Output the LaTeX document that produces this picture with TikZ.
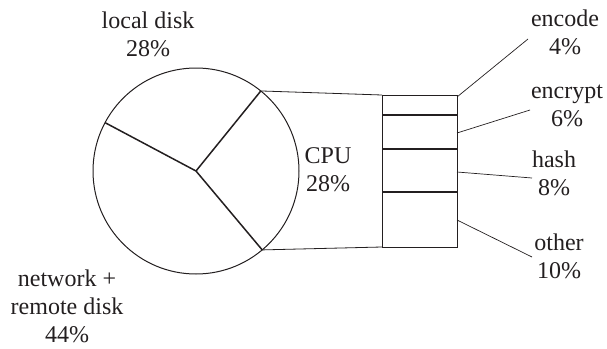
\documentclass[tikz,border=0pt]{standalone}
\usepackage{fontspec}
\setmainfont{Liberation Serif}
\usetikzlibrary{calc}
\definecolor{ink}{HTML}{231F20}
\tikzset{
  lbl/.style={align=center, inner sep=0pt, text=ink, font=\fontsize{24}{28}\selectfont},
  spoke/.style={draw=ink, line width=1.5pt},
  divider/.style={draw=ink, line width=2.2pt},
  leader/.style={draw=ink, line width=0.7pt}
}
\begin{document}
\begin{tikzpicture}[x=1pt,y=-1pt]
\useasboundingbox (0,0) rectangle (607,348);

% pie
\coordinate (O) at (196,171);
\draw[ink, line width=1pt] (O) circle [radius=103pt];
\coordinate (pUL) at ($(O)+(152:103pt)$);
\coordinate (pUR) at ($(O)+(51:103pt)$);
\coordinate (pLR) at ($(O)+(-50:103pt)$);
\draw[spoke] (O) -- (pUL);
\draw[spoke] (O) -- (pUR);
\draw[spoke] (O) -- (pLR);

% cpu breakdown bar
\coordinate (bTL) at (382,95);
\coordinate (bBL) at (382,247);
\coordinate (bTR) at (457,95);
\coordinate (bBR) at (457,247);
\draw[ink, line width=1pt] (bTL) rectangle (bBR);
\draw[divider] (382,115) -- (457,115);
\draw[divider] (382,149) -- (457,149);
\draw[divider] (382,192) -- (457,192);
\draw[ink, line width=0.8pt] (pUR) -- (bTL);
\draw[ink, line width=0.8pt] (pLR) -- (bBL);

% labels
\node[lbl] (local) at (148,34) {local disk\\28\%};
\node[lbl] (net) at (67,306) {network +\\remote disk\\44\%};
\node[lbl] (cpu) at (328,170) {CPU\\28\%};
\node[lbl] (enc) at (565,32) {encode\\4\%};
\node[lbl] (ency) at (567,106) {encrypt\\6\%};
\node[lbl] (hash) at (554,173) {hash\\8\%};
\node[lbl] (oth) at (559,256) {other\\10\%};

% leaders
\coordinate (eA) at (457,97);   \coordinate (eB) at (528,39);
\coordinate (yA) at (457,133);  \coordinate (yB) at (530,110);
\coordinate (hA) at (457,172);  \coordinate (hB) at (532,178);
\coordinate (oA) at (457,220);  \coordinate (oB) at (532,257);
\draw[leader] (eA) -- (eB);
\draw[leader] (yA) -- (yB);
\draw[leader] (hA) -- (hB);
\draw[leader] (oA) -- (oB);
\end{tikzpicture}
\end{document}
